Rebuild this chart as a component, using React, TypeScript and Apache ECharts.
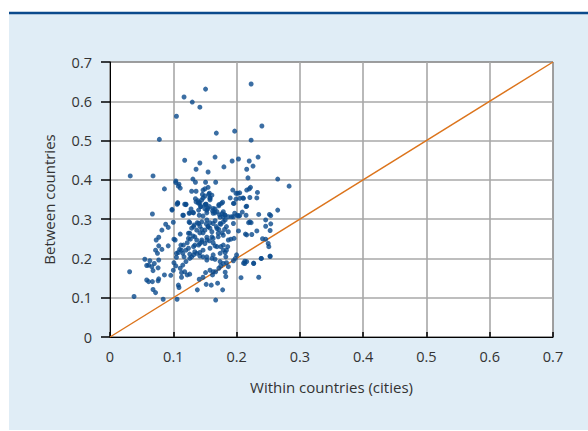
import React, { useEffect, useRef } from "react";
import * as echarts from "echarts";

const xTicks = ["0", "0.1", "0.2", "0.3", "0.4", "0.5", "0.6", "0.7"];
const xAxisTitle = "Within countries (cities)";
const yAxisTitle = "Between countries";

// [within countries, between countries]
const upperPoints: number[][] = [
  [0.151, 0.631], [0.223, 0.644], [0.117, 0.611], [0.130, 0.598], [0.142, 0.585],
  [0.105, 0.562], [0.240, 0.537], [0.168, 0.519], [0.197, 0.524], [0.078, 0.503],
  [0.223, 0.501], [0.118, 0.450], [0.142, 0.443], [0.166, 0.458], [0.193, 0.448],
  [0.203, 0.453], [0.220, 0.448], [0.234, 0.458], [0.136, 0.427], [0.155, 0.420],
  [0.180, 0.433], [0.216, 0.427], [0.226, 0.435], [0.032, 0.410], [0.068, 0.410],
  [0.218, 0.405], [0.265, 0.402], [0.283, 0.384], [0.104, 0.397], [0.109, 0.389],
  [0.111, 0.379], [0.086, 0.377], [0.131, 0.402], [0.135, 0.394], [0.151, 0.394],
  [0.167, 0.394], [0.150, 0.377],
];

const middlePoints: number[][] = [
  [0.194, 0.374], [0.199, 0.366], [0.202, 0.366], [0.205, 0.367], [0.216, 0.374],
  [0.220, 0.377], [0.222, 0.381], [0.233, 0.368], [0.190, 0.354], [0.199, 0.351],
  [0.210, 0.354], [0.221, 0.355], [0.232, 0.354], [0.178, 0.343], [0.195, 0.340],
  [0.215, 0.332], [0.129, 0.371], [0.136, 0.371], [0.146, 0.363], [0.156, 0.363],
  [0.147, 0.354], [0.158, 0.354], [0.135, 0.352], [0.139, 0.347], [0.142, 0.342],
  [0.158, 0.349], [0.151, 0.338], [0.120, 0.337], [0.107, 0.342], [0.098, 0.325],
  [0.144, 0.332], [0.155, 0.327], [0.166, 0.326], [0.128, 0.326], [0.172, 0.334],
  [0.104, 0.393], [0.108, 0.384], [0.147, 0.374], [0.150, 0.359], [0.155, 0.381],
  [0.157, 0.366], [0.161, 0.361], [0.158, 0.353], [0.145, 0.349], [0.140, 0.340],
  [0.150, 0.336], [0.143, 0.332], [0.153, 0.323], [0.163, 0.327], [0.169, 0.319],
  [0.176, 0.340], [0.179, 0.319], [0.182, 0.310], [0.187, 0.306], [0.174, 0.305],
  [0.163, 0.315], [0.106, 0.338], [0.118, 0.338], [0.126, 0.316], [0.132, 0.316],
  [0.116, 0.310], [0.147, 0.308], [0.145, 0.293], [0.153, 0.298], [0.158, 0.291],
  [0.140, 0.289], [0.126, 0.291], [0.205, 0.353], [0.211, 0.353], [0.192, 0.306],
  [0.197, 0.315], [0.203, 0.308], [0.221, 0.293], [0.216, 0.260],
  [0.107, 0.340], [0.120, 0.338], [0.136, 0.344], [0.140, 0.342], [0.152, 0.338],
  [0.157, 0.332], [0.172, 0.337], [0.196, 0.340], [0.216, 0.333], [0.067, 0.313],
  [0.098, 0.323], [0.115, 0.310], [0.125, 0.315], [0.131, 0.317], [0.140, 0.323],
  [0.141, 0.310], [0.150, 0.326], [0.153, 0.316], [0.162, 0.321], [0.166, 0.316],
  [0.173, 0.311], [0.177, 0.314], [0.181, 0.311], [0.179, 0.305], [0.182, 0.298],
  [0.195, 0.306], [0.201, 0.310], [0.205, 0.309], [0.209, 0.318], [0.215, 0.310],
  [0.235, 0.312], [0.252, 0.312], [0.254, 0.309], [0.265, 0.323], [0.246, 0.298],
  [0.254, 0.288], [0.223, 0.291], [0.219, 0.291], [0.100, 0.292], [0.088, 0.287],
  [0.092, 0.279], [0.082, 0.272], [0.125, 0.293], [0.129, 0.277], [0.133, 0.285],
  [0.138, 0.291], [0.142, 0.282], [0.145, 0.274], [0.147, 0.265], [0.152, 0.288],
  [0.155, 0.281], [0.158, 0.277], [0.163, 0.289], [0.166, 0.296], [0.168, 0.281],
  [0.172, 0.274], [0.175, 0.287], [0.177, 0.265], [0.181, 0.274], [0.195, 0.289],
  [0.203, 0.270], [0.214, 0.262], [0.224, 0.261], [0.232, 0.270], [0.246, 0.282],
  [0.253, 0.271], [0.132, 0.281], [0.137, 0.272], [0.126, 0.264], [0.142, 0.265],
  [0.150, 0.272], [0.155, 0.281], [0.161, 0.268], [0.169, 0.276], [0.174, 0.289],
  [0.179, 0.293], [0.184, 0.281], [0.187, 0.268], [0.179, 0.259],
];

const lowerPoints: number[][] = [
  [0.241, 0.250], [0.246, 0.249], [0.250, 0.238], [0.251, 0.230], [0.253, 0.206],
  [0.239, 0.200], [0.227, 0.187], [0.216, 0.192], [0.213, 0.187], [0.207, 0.151],
  [0.235, 0.152], [0.111, 0.262], [0.101, 0.249], [0.092, 0.232], [0.077, 0.254],
  [0.073, 0.247], [0.077, 0.232], [0.072, 0.221], [0.075, 0.213], [0.082, 0.223],
  [0.055, 0.198], [0.063, 0.194], [0.070, 0.187], [0.077, 0.196], [0.066, 0.179],
  [0.061, 0.183], [0.058, 0.182], [0.031, 0.166], [0.076, 0.176], [0.068, 0.169],
  [0.086, 0.158], [0.077, 0.148], [0.058, 0.145], [0.061, 0.141], [0.067, 0.141],
  [0.076, 0.143], [0.068, 0.121], [0.072, 0.113], [0.038, 0.103], [0.084, 0.096],
  [0.106, 0.096], [0.096, 0.157], [0.100, 0.170], [0.104, 0.181], [0.101, 0.189],
  [0.105, 0.203], [0.108, 0.215], [0.110, 0.223], [0.112, 0.234], [0.115, 0.213],
  [0.117, 0.204], [0.120, 0.221], [0.122, 0.240], [0.124, 0.264], [0.127, 0.249],
  [0.131, 0.257], [0.134, 0.234], [0.137, 0.247], [0.142, 0.238], [0.145, 0.247],
  [0.150, 0.238], [0.153, 0.254], [0.157, 0.245], [0.161, 0.255], [0.163, 0.240],
  [0.166, 0.232], [0.171, 0.264], [0.175, 0.230], [0.179, 0.221], [0.182, 0.215],
  [0.183, 0.204], [0.186, 0.230], [0.191, 0.249], [0.196, 0.251], [0.200, 0.209],
  [0.198, 0.200], [0.195, 0.194], [0.184, 0.189], [0.187, 0.179], [0.179, 0.187],
  [0.174, 0.192], [0.166, 0.198], [0.161, 0.200], [0.153, 0.196], [0.147, 0.204],
  [0.142, 0.215], [0.137, 0.213], [0.132, 0.209], [0.126, 0.200], [0.120, 0.192],
  [0.115, 0.183], [0.111, 0.175], [0.113, 0.164], [0.118, 0.166], [0.122, 0.158],
  [0.126, 0.160], [0.113, 0.152], [0.108, 0.132], [0.109, 0.126], [0.138, 0.120],
  [0.141, 0.147], [0.147, 0.152], [0.151, 0.164], [0.158, 0.170], [0.163, 0.166],
  [0.162, 0.158], [0.167, 0.166], [0.172, 0.175], [0.175, 0.181], [0.182, 0.165],
  [0.183, 0.154], [0.170, 0.137], [0.160, 0.132], [0.152, 0.134], [0.178, 0.120],
  [0.167, 0.094], [0.213, 0.193], [0.211, 0.188], [0.227, 0.188], [0.239, 0.200],
  [0.253, 0.205], [0.171, 0.255], [0.163, 0.251], [0.153, 0.247], [0.145, 0.242],
  [0.140, 0.234], [0.132, 0.230], [0.124, 0.226], [0.116, 0.234], [0.113, 0.221],
  [0.103, 0.247], [0.105, 0.213], [0.126, 0.211], [0.134, 0.217], [0.147, 0.221],
  [0.158, 0.226], [0.169, 0.230], [0.179, 0.234], [0.184, 0.221], [0.187, 0.247],
  [0.163, 0.209], [0.153, 0.204], [0.142, 0.206], [0.129, 0.204], [0.174, 0.213],
  [0.124, 0.251], [0.134, 0.255],
];

const referenceLine: number[][] = [
  [0, 0],
  [0.7, 0.7],
];

export default function App() {
  const ref = useRef<HTMLDivElement>(null);

  useEffect(() => {
    document.body.style.margin = "0";
    if (!ref.current) return;
    const chart = echarts.init(ref.current, null, { renderer: "svg" });
    const font = "'Open Sans', 'Noto Sans', sans-serif";
    const allPoints = [...upperPoints, ...middlePoints, ...lowerPoints];
    chart.setOption({
      animation: false,
      backgroundColor: "#ffffff",
      textStyle: { fontFamily: font },
      graphic: [
        {
          type: "rect",
          z: -10,
          silent: true,
          shape: { x: 9, y: 14, width: 579, height: 416 },
          style: { fill: "#e0edf6" },
        },
        {
          type: "line",
          z: -5,
          silent: true,
          shape: { x1: 9, y1: 13, x2: 588, y2: 13 },
          style: { stroke: "#0b4a8c", lineWidth: 2.5 },
        },
      ],
      grid: {
        left: 110,
        right: 35,
        top: 62,
        bottom: 94,
        show: true,
        backgroundColor: "#ffffff",
        borderColor: "#000000",
        borderWidth: 1,
        containLabel: false,
      },
      xAxis: {
        type: "value",
        min: 0,
        max: 0.7,
        interval: 0.1,
        name: xAxisTitle,
        nameLocation: "middle",
        nameGap: 42,
        nameTextStyle: { fontSize: 15, color: "#333", fontFamily: font },
        axisLine: { show: true, onZero: false, lineStyle: { color: "#000", width: 1 } },
        axisTick: { show: true, inside: true, length: 5, lineStyle: { color: "#000", width: 1.5 } },
        axisLabel: {
          margin: 12,
          fontSize: 14.5,
          color: "#333",
          fontFamily: font,
          formatter: (v: number) => xTicks[Math.round(v * 10)] ?? "",
        },
        splitLine: { show: true, lineStyle: { color: "#a8a8a8", width: 1.6 } },
      },
      yAxis: {
        type: "value",
        min: 0,
        max: 0.7,
        interval: 0.1,
        name: yAxisTitle,
        nameLocation: "middle",
        nameGap: 54,
        nameRotate: 90,
        nameTextStyle: { fontSize: 15, color: "#333", fontFamily: font },
        axisLine: { show: true, onZero: false, lineStyle: { color: "#000", width: 1 } },
        axisTick: { show: true, inside: false, length: 9, lineStyle: { color: "#000", width: 1.5 } },
        axisLabel: {
          margin: 18,
          fontSize: 14.5,
          color: "#333",
          fontFamily: font,
          formatter: (v: number) => xTicks[Math.round(v * 10)] ?? "",
        },
        splitLine: { show: true, lineStyle: { color: "#a8a8a8", width: 1.6 } },
      },
      series: [
        {
          type: "line",
          data: referenceLine,
          symbol: "none",
          lineStyle: { color: "#dc741c", width: 1.4 },
          z: 1,
          silent: true,
        },
        {
          type: "scatter",
          data: allPoints,
          symbol: "circle",
          symbolSize: 5,
          itemStyle: { color: "#0a4a8c" },
          z: 2,
        },
      ],
    });
    return () => chart.dispose();
  }, []);

  return <div ref={ref} style={{ width: 588, height: 431 }} />;
}
